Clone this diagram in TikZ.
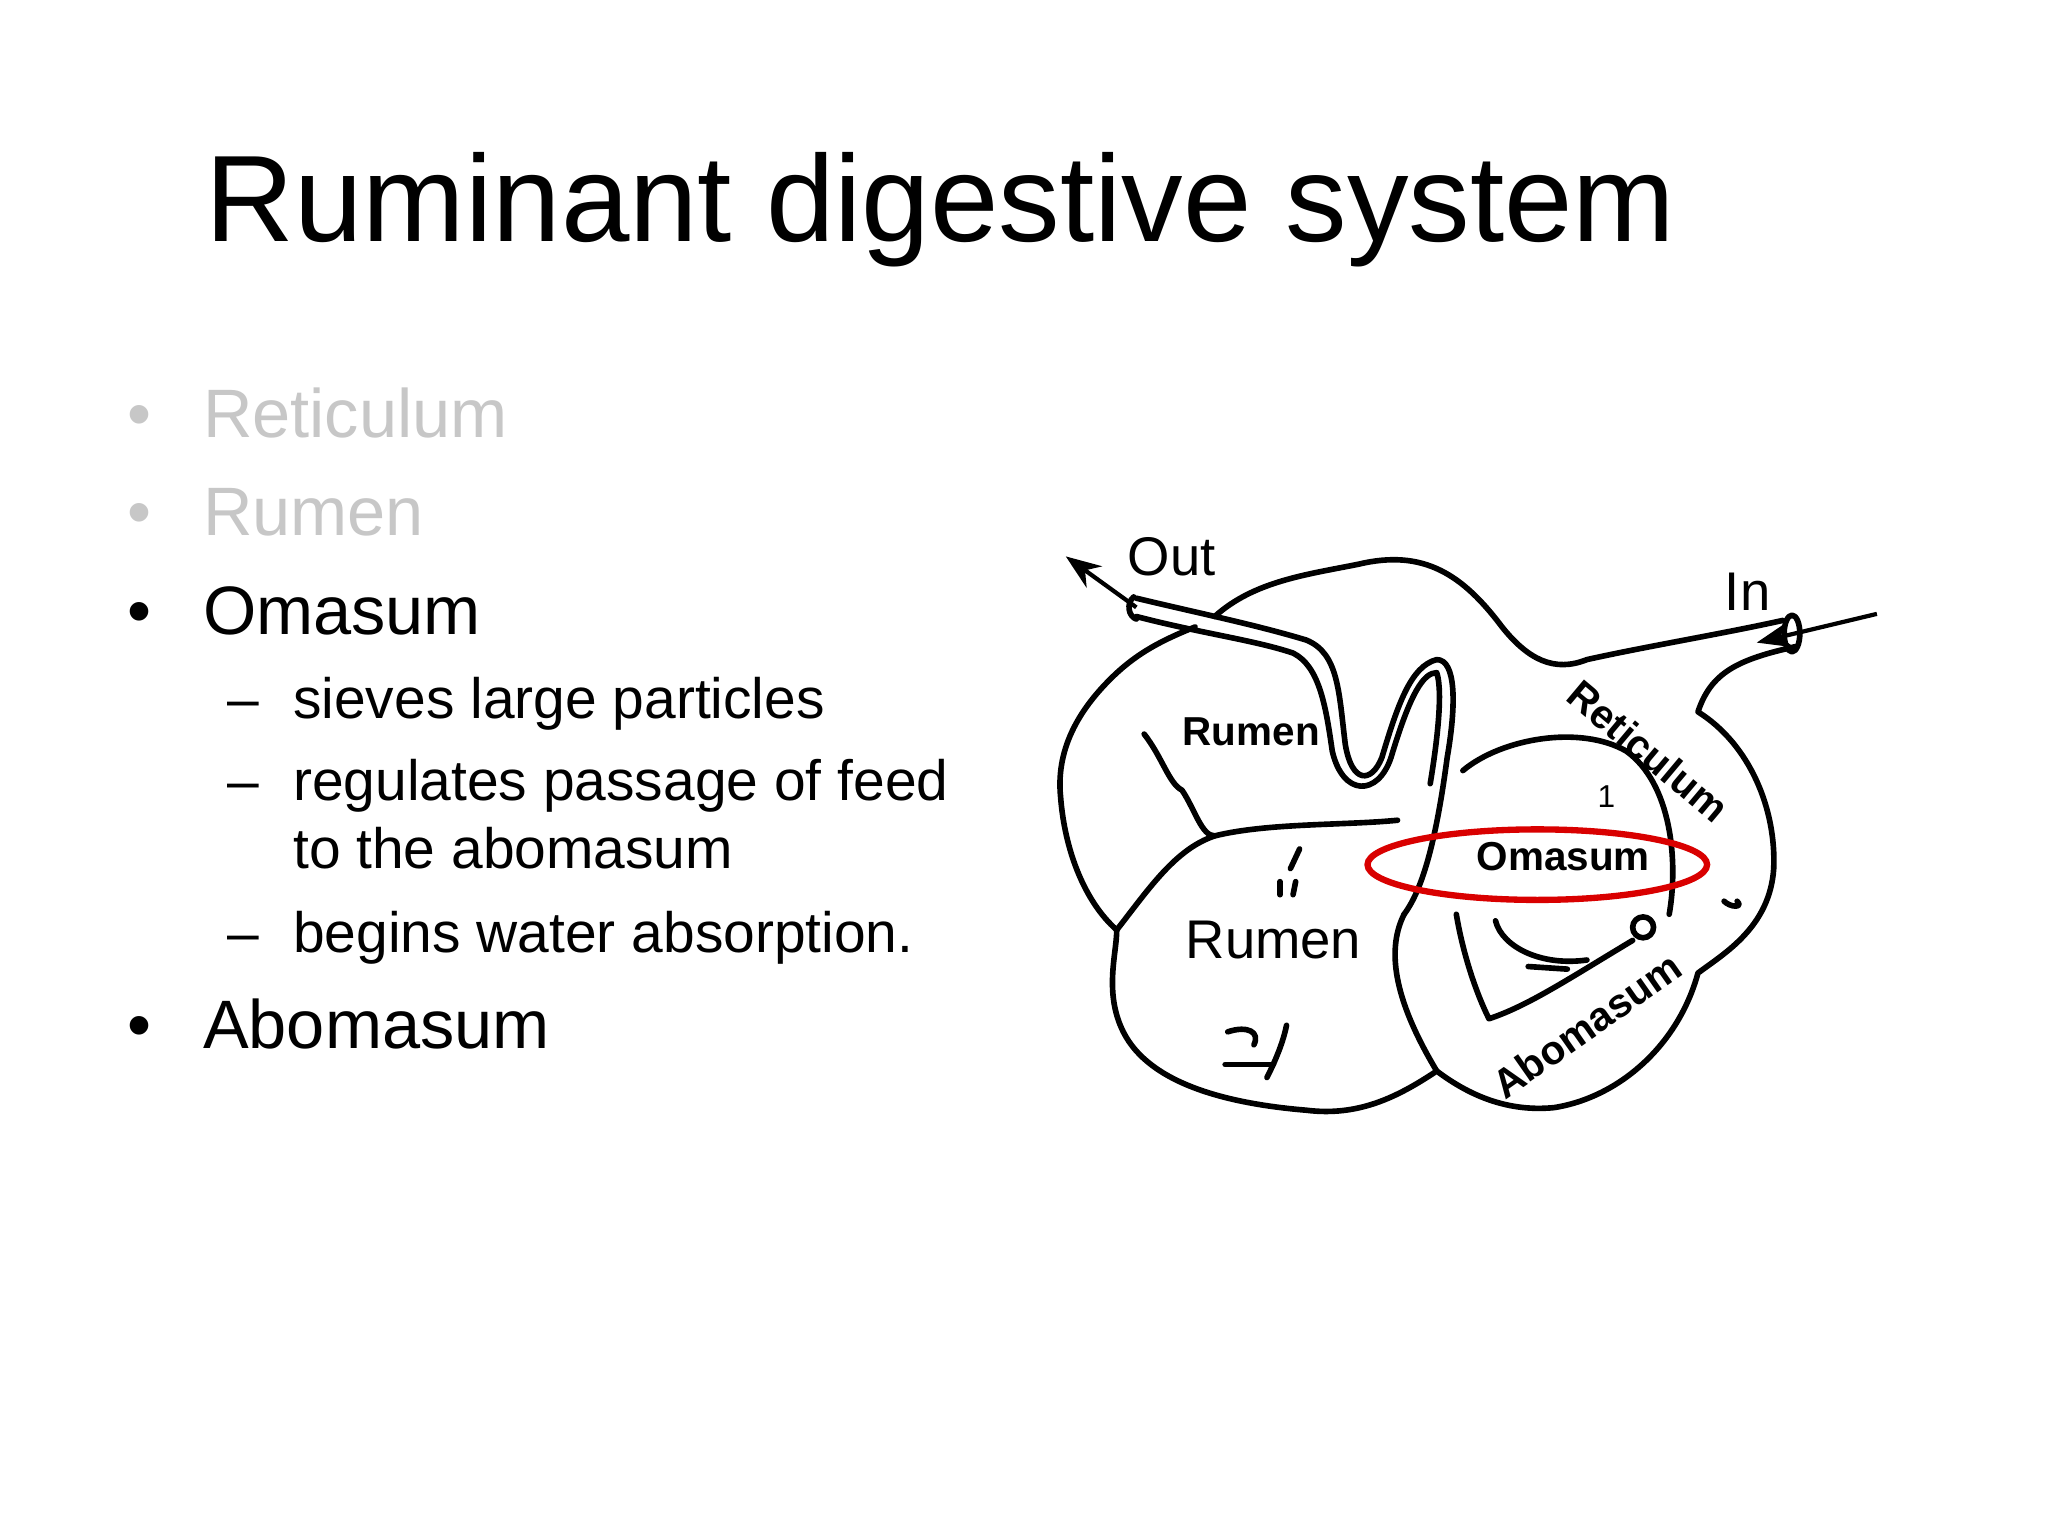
\documentclass[tikz,border=0pt]{standalone}
\usepackage{fontspec}
\setmainfont{Liberation Sans}
\usetikzlibrary{arrows.meta}
\begin{document}
\begin{tikzpicture}[x=0.01306cm,y=-0.01306cm,
  org/.style={line width=1.6pt,line join=round,line cap=round},
  bul/.style={anchor=base west,font=\fontsize{19.5}{23}\selectfont},
  sub/.style={anchor=base west,font=\fontsize{16.2}{20}\selectfont},
  lab/.style={font=\fontsize{15.5}{18}\selectfont},
  sm/.style={font=\fontsize{11.5}{14}\selectfont\bfseries}]
\useasboundingbox[fill=white] (0,0) rectangle (1568,1176);
\node[anchor=base west,font=\fontsize{35}{40}\selectfont,inner sep=0pt] (title) at (157,185) {Ruminant digestive system};
% bullets
\node[bul,text=black!22] (d1) at (88,335) {\textbullet};
\node[bul,text=black!22] (b1) at (146,335) {Reticulum};
\node[bul,text=black!22] (d2) at (88,410) {\textbullet};
\node[bul,text=black!22] (b2) at (146,410) {Rumen};
\node[bul] (d3) at (88,486) {\textbullet};
\node[bul] (b3) at (146,486) {Omasum};
\node[sub] (e1) at (165,550) {–};
\node[sub] (s1) at (215,550) {sieves large particles};
\node[sub] (e2) at (165,613) {–};
\node[sub] (s2) at (215,613) {regulates passage of feed};
\node[sub] (s2b) at (215,665) {to the abomasum};
\node[sub] (e3) at (165,729) {–};
\node[sub] (s3) at (215,729) {begins water absorption.};
\node[bul] (d4) at (88,803) {\textbullet};
\node[bul] (b4) at (146,803) {Abomasum};
% stomach outline
\draw[org] (930,472) .. controls (960,445) and (1000,440) .. (1040,432)
  .. controls (1090,420) and (1120,440) .. (1150,480)
  .. controls (1170,505) and (1190,515) .. (1215,505)
  .. controls (1260,495) and (1320,485) .. (1365,475);
\draw[org] (1375,495) .. controls (1330,505) and (1310,515) .. (1300,545)
  .. controls (1340,570) and (1360,620) .. (1358,665)
  .. controls (1355,710) and (1320,730) .. (1300,745)
  .. controls (1285,800) and (1240,840) .. (1190,848)
  .. controls (1150,852) and (1120,835) .. (1100,820)
  .. controls (1070,840) and (1040,855) .. (1000,850)
  .. controls (940,845) and (880,830) .. (860,790)
  .. controls (845,760) and (855,730) .. (855,712)
  .. controls (830,690) and (815,650) .. (812,610)
  .. controls (808,570) and (830,540) .. (850,520)
  .. controls (870,500) and (890,490) .. (915,480);
% out tube
\draw[org] (870,458) .. controls (920,470) and (960,478) .. (1000,490)
  .. controls (1025,500) and (1025,530) .. (1030,570)
  .. controls (1035,600) and (1050,600) .. (1058,580)
  .. controls (1070,540) and (1080,510) .. (1100,505)
  .. controls (1115,505) and (1115,540) .. (1108,580)
  .. controls (1100,640) and (1090,680) .. (1075,700);
\draw[org] (870,472) .. controls (920,485) and (960,490) .. (990,500)
  .. controls (1010,510) and (1015,540) .. (1020,575)
  .. controls (1028,610) and (1055,610) .. (1065,580)
  .. controls (1080,530) and (1090,515) .. (1100,515)
  .. controls (1105,530) and (1100,570) .. (1095,600);
\draw[org] (868,457) .. controls (862,462) and (864,472) .. (870,474);
% rumen divisions
\draw[org] (855,712) .. controls (880,680) and (900,650) .. (930,640)
  .. controls (970,630) and (1030,632) .. (1070,628);
\draw[org] (876,562) .. controls (890,580) and (895,600) .. (905,605)
  .. controls (915,620) and (920,640) .. (930,640);
% omasum
\draw[org] (1120,590) .. controls (1150,565) and (1210,555) .. (1245,575)
  .. controls (1280,600) and (1285,660) .. (1278,700);
\draw[org] (1075,700) .. controls (1060,730) and (1070,770) .. (1100,820);
\draw[org] (1115,700) .. controls (1120,730) and (1130,760) .. (1140,780)
  .. controls (1170,770) and (1200,750) .. (1250,720);
\draw[org] (1258,710) circle (8);
\draw[org] (1145,705) .. controls (1150,725) and (1180,740) .. (1215,735);
\draw[org] (1170,740) -- (1200,742);
\draw[org] (1320,690) .. controls (1325,695) and (1335,695) .. (1330,690);
\draw[org] (940,790) .. controls (955,785) and (965,790) .. (960,800);
\draw[org] (938,815) -- (975,815);
\draw[org] (985,785) .. controls (982,800) and (975,815) .. (970,825);
\draw[org] (995,650) -- (988,665); \draw[org] (980,675) -- (980,685); \draw[org] (992,675) -- (990,685);
% arrows
\coordinate (outend) at (816,426);
\coordinate (inst) at (1437,470);
\draw[line width=1.2pt,-{Stealth[length=10pt]}] (870,465) -- (outend);
\draw[line width=1.2pt,-{Stealth[length=10pt]}] (inst) -- (1345,492);
\draw[org] (1372,485) ellipse (6 and 14);
% labels
\node[lab] (out) at (897,426) {Out};
\node[lab] (in) at (1338,453) {In};
\node[sm] (rum1) at (958,560) {Rumen};
\node[lab] (rum2) at (975,720) {Rumen};
\node[sm] (oma) at (1197,656) {Omasum};
\node[sm,rotate=-40,inner sep=0pt] (ret) at (1262,575) {Reticulum};
\node[sm,rotate=35,inner sep=0pt] (abo) at (1215,785) {Abomasum};
\node[font=\fontsize{9}{10}\selectfont] (one) at (1230,610) {1};
\draw[red!85!black,line width=1.8pt] (1177,662) ellipse (130 and 27);
\end{tikzpicture}
\end{document}
